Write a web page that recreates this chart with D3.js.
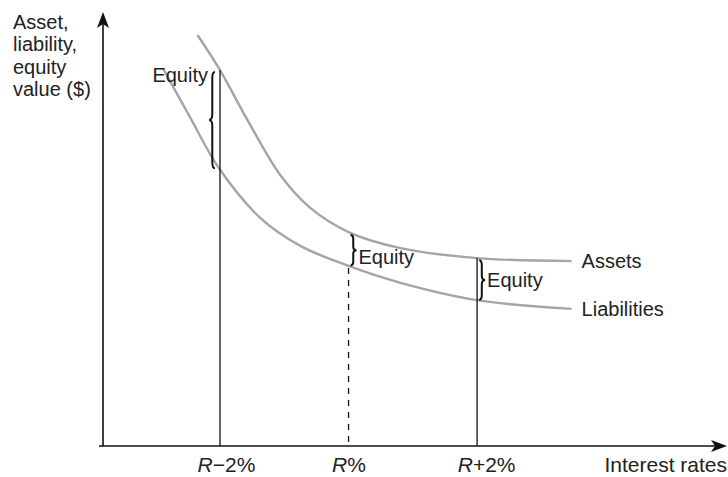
<!DOCTYPE html>
<html>
<head>
<meta charset="utf-8">
<script src="https://cdn.jsdelivr.net/npm/d3@7"></script>
<style>
  html, body { margin: 0; padding: 0; background: #fff; }
  svg { display: block; font-family: "Liberation Sans", Arial, sans-serif; }
</style>
</head>
<body>
<svg id="chart" width="728" height="477"></svg>
<script>
// ---- data (interest rate relative to R, in %; value in arbitrary units) ----
const assetRates      = [-2.35, -2.02, -1.53, -1.06, -0.59, 0, 0.81, 2.0, 3.47];
const assetValues     = [94.7, 87.1, 74.0, 62.4, 54.8, 49.3, 45.6, 43.3, 42.6];
const liabilityRates  = [-2.89, -2.46, -2.02, -1.37, -0.75, 0, 0.81, 2.0, 3.47];
const liabilityValues = [87.1, 75.6, 64.1, 52.5, 46.1, 41.5, 37.6, 33.6, 31.6];
const tickRates       = [-2, 0, 2];
const tickLabels      = [["R", "\u22122%"], ["R", "%"], ["R", "+2%"]];
const markerTops      = [86.6, 41.0, 43.3];   // top of each vertical marker line
const equityTop       = [86.2, 48.6, 42.8];   // equity brace top (asset value)
const equityBottom    = [64.0, 41.6, 33.7];   // equity brace bottom (liability value)
const seriesNames     = ["Assets", "Liabilities"];
const yTitleLines     = ["Asset,", "liability,", "equity", "value ($)"];
const xTitle          = "Interest rates";

// ---- layout ----
const svg = d3.select("#chart");
const x = d3.scaleLinear().domain([-3.82, 5.81]).range([103, 722]);
const y = d3.scaleLinear().domain([0, 100]).range([446, 12]);
const fs = 20;

// curves
const line = d3.line().x(d => x(d[0])).y(d => y(d[1])).curve(d3.curveCatmullRom.alpha(0.5));
const assetPts = assetRates.map((r, i) => [r, assetValues[i]]);
const liabPts = liabilityRates.map((r, i) => [r, liabilityValues[i]]);
[assetPts, liabPts].forEach(pts => {
  svg.append("path").attr("d", line(pts))
    .attr("fill", "none").attr("stroke", "#a5a5a5").attr("stroke-width", 2.4);
});

// series labels
[assetPts, liabPts].forEach((pts, i) => {
  const last = pts[pts.length - 1];
  svg.append("text").attr("x", x(last[0]) + 10).attr("y", y(last[1]) + 7)
    .attr("font-size", fs).attr("fill", "#222").text(seriesNames[i]);
});

// vertical marker lines
tickRates.forEach((r, i) => {
  svg.append("line")
    .attr("x1", x(r)).attr("x2", x(r))
    .attr("y1", y(markerTops[i])).attr("y2", y(0))
    .attr("stroke", "#111").attr("stroke-width", 1.3)
    .attr("stroke-dasharray", i === 1 ? "6,6" : null);
});

// braces
function brace(x0, y1, y2, dir, w) {
  const ym = (y1 + y2) / 2, h = y2 - y1, s = x0 + dir * w * 0.45, t = x0 + dir * w;
  const k = Math.min(6, h * 0.12);
  return `M${x0},${y1} Q${s},${y1} ${s},${y1 + k} L${s},${ym - k} Q${s},${ym} ${t},${ym}` +
         ` Q${s},${ym} ${s},${ym + k} L${s},${y2 - k} Q${s},${y2} ${x0},${y2}`;
}
const braceDir = [-1, 1, 1];
tickRates.forEach((r, i) => {
  const bx = x(r) + (i === 0 ? -5 : 2);
  svg.append("path")
    .attr("d", brace(bx, y(equityTop[i]), y(equityBottom[i]), braceDir[i], 6))
    .attr("fill", "none").attr("stroke", "#111").attr("stroke-width", 2);
  const tx = i === 0 ? bx - 7 : bx + 8;
  const ty = i === 0 ? y(equityTop[i]) + 10 : (i === 1 ? y(equityBottom[i]) - 1 : (y(equityTop[i]) + y(equityBottom[i])) / 2 + 7);
  svg.append("text").attr("x", tx).attr("y", ty)
    .attr("text-anchor", i === 0 ? "end" : "start")
    .attr("font-size", fs).attr("fill", "#222").text("Equity");
});

// axes
const xAxis = d3.axisBottom(x).tickValues(tickRates).tickSize(0).tickPadding(0).tickFormat(() => "");
const gx = svg.append("g").attr("transform", `translate(0,${y(0)})`).call(xAxis);
gx.select(".domain").remove();
const nudge = [6, 0, 9];
gx.selectAll(".tick text").each(function (d, i) {
  const t = d3.select(this).attr("y", 26).attr("dx", nudge[i])
    .attr("font-size", 21).attr("font-family", "Liberation Sans, Arial, sans-serif")
    .attr("fill", "#222").attr("dy", null);
  t.append("tspan").attr("font-style", "italic").text(tickLabels[i][0]);
  t.append("tspan").text(tickLabels[i][1]);
});

svg.append("line").attr("x1", 99).attr("x2", x.range()[1])
  .attr("y1", y(0)).attr("y2", y(0)).attr("stroke", "#111").attr("stroke-width", 1.6);
svg.append("line").attr("x1", x.range()[0]).attr("x2", x.range()[0])
  .attr("y1", y(0)).attr("y2", y.range()[1] + 10).attr("stroke", "#111").attr("stroke-width", 1.6);
// arrowheads
const ax = x.range()[0], ay = y.range()[1];
svg.append("path").attr("d", `M${ax},${ay} L${ax - 6},${ay + 16} L${ax},${ay + 12} L${ax + 6},${ay + 16} Z`).attr("fill", "#111");
const rx = x.range()[1] + 5, ry = y(0);
svg.append("path").attr("d", `M${rx},${ry} L${rx - 16},${ry - 6} L${rx - 12},${ry} L${rx - 16},${ry + 6} Z`).attr("fill", "#111");

// titles
svg.append("text").attr("x", 727).attr("y", 472).attr("text-anchor", "end")
  .attr("font-size", 21).attr("fill", "#222").text(xTitle);
const yt = svg.append("text").attr("font-size", fs).attr("fill", "#222");
yTitleLines.forEach((s, i) => {
  yt.append("tspan").attr("x", 13).attr("y", 29 + i * 22.4).text(s);
});
</script>
</body>
</html>
